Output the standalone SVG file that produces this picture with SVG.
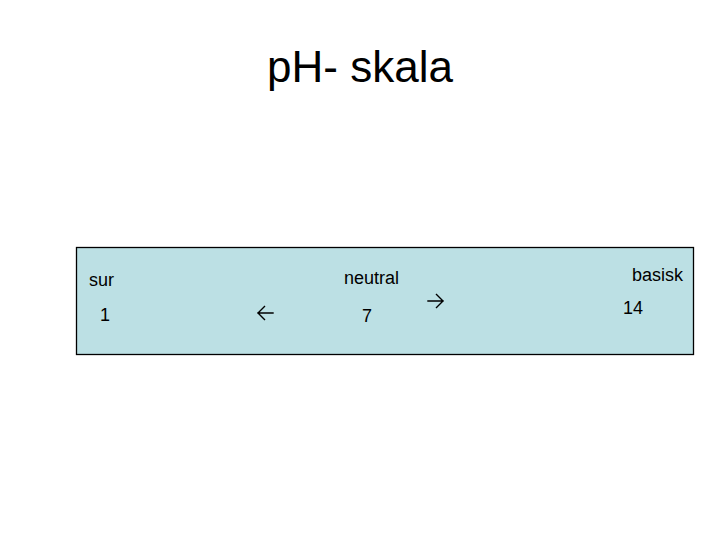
<svg xmlns="http://www.w3.org/2000/svg" width="720" height="540" viewBox="0 0 720 540">
<style>
.t{font-family:"Liberation Sans",Arial,sans-serif;fill:#000}
.l{font-size:18px}
.arr{fill:none;stroke:#000;stroke-width:1.4;stroke-linecap:square}
</style>
<rect width="720" height="540" fill="#fff"/>
<text class="t" x="360" y="82" font-size="44" text-anchor="middle">pH- skala</text>
<g id="box">
<rect x="76.5" y="247.5" width="617" height="107" fill="#BCE0E4" stroke="#000" stroke-width="1.3"/>
</g>
<g id="labels">
<text class="t l" x="89" y="286">sur</text>
<text class="t l" x="344" y="284">neutral</text>
<text class="t l" x="632" y="281">basisk</text>
<text class="t l" x="100" y="321">1</text>
<text class="t l" x="362" y="322">7</text>
<text class="t l" x="623" y="314">14</text>
</g>
<g id="connectors">
<path class="arr" d="M258 313 H273 M258 313 L264.5 306.5 M258 313 L264.5 319.5"/>
<path class="arr" d="M428 301 H443 M443 301 L436.5 294.5 M443 301 L436.5 307.5"/>
</g>
</svg>
